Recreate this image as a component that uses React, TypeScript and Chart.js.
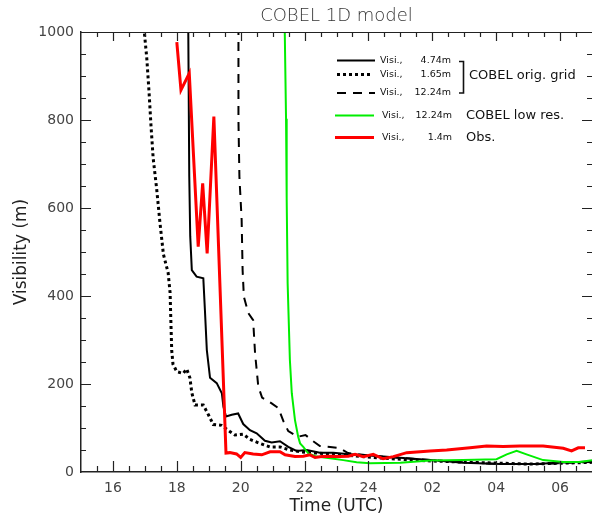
import React, { useEffect, useRef } from 'react';
import { Chart, registerables } from 'chart.js';

Chart.register(...registerables);

const FONT = '"DejaVu Sans", "Liberation Sans", Arial, sans-serif';

// Time in hours (values > 24 are the next day), visibility in metres
const solidHours = [18.35, 18.39, 18.42, 18.47, 18.62, 18.83, 18.88, 18.94, 19.04, 19.25, 19.41, 19.46, 19.54, 19.72, 19.92, 20.08, 20.29, 20.5, 20.76, 20.97, 21.23, 21.49, 21.75, 22.07, 22.48, 22.9, 23.32, 24.36, 25.4, 26.14, 26.97, 28.12, 29.27, 29.89, 31.0];
const solidVis = [1100, 671, 536, 459, 444, 440, 368, 277, 214, 202, 179, 148, 126, 130, 133, 109, 95, 88, 71, 67, 70, 57, 48, 50, 44, 44, 41, 36, 30, 26, 21, 18, 18, 21, 24];

const dotHours = [16.97, 17.06, 17.13, 17.19, 17.26, 17.37, 17.47, 17.58, 17.73, 17.79, 17.81, 17.84, 17.88, 18.0, 18.2, 18.31, 18.41, 18.47, 18.57, 18.83, 18.99, 19.14, 19.4, 19.66, 19.82, 20.08, 20.29, 20.6, 20.92, 21.23, 21.54, 21.86, 22.17, 23.2, 24.36, 25.61, 27.18, 29.06, 31.0];
const dotVis = [1010, 940, 864, 789, 713, 643, 568, 495, 452, 407, 353, 277, 245, 228, 224, 234, 214, 180, 152, 152, 130, 108, 106, 92, 84, 86, 74, 65, 57, 57, 50, 46, 44, 39, 32, 26, 22, 18, 22];

const dashHours = [19.93, 19.93, 19.96, 20.03, 20.06, 20.1, 20.24, 20.39, 20.45, 20.55, 20.67, 20.97, 21.18, 21.34, 21.49, 21.78, 22.03, 22.23, 22.48, 22.8, 23.11, 23.36, 24.05, 25.39, 26.96, 28.12, 29.37, 31.0];
const dashVis = [1050, 800, 671, 573, 459, 398, 361, 345, 270, 195, 169, 156, 145, 115, 93, 80, 84, 72, 59, 57, 54, 43, 37, 30, 22, 18, 18, 23];

const lowHours = [21.36, 21.42, 21.44, 21.47, 21.54, 21.6, 21.7, 21.8, 21.86, 21.96, 22.12, 22.38, 22.8, 23.21, 23.63, 24.05, 25.0, 25.93, 26.96, 28.01, 28.33, 28.64, 28.95, 29.47, 30.1, 30.62, 31.0];
const lowVis = [1100, 803, 622, 429, 255, 179, 118, 80, 65, 57, 42, 35, 31, 27, 22, 20, 21, 26, 27, 29, 40, 48, 40, 27, 23, 23, 27];

const obsHours = [18.0, 18.13, 18.39, 18.67, 18.81, 18.95, 19.16, 19.54, 19.66, 19.87, 20.0, 20.13, 20.39, 20.66, 20.92, 21.23, 21.39, 21.7, 21.96, 22.17, 22.33, 22.54, 22.8, 23.11, 23.37, 23.58, 23.84, 24.15, 24.46, 24.78, 25.2, 25.93, 26.45, 27.18, 27.7, 28.22, 28.74, 29.47, 30.1, 30.36, 30.57, 30.78];
const obsVis = [977, 868, 906, 512, 656, 497, 808, 43, 44, 41, 33, 44, 41, 39, 46, 46, 39, 35, 36, 39, 33, 35, 36, 35, 36, 40, 35, 40, 30, 35, 44, 48, 50, 55, 59, 58, 59, 59, 54, 48, 55, 55];

const seriesNames = ['Visi.,', 'Visi.,', 'Visi.,', 'Visi.,', 'Visi.,'];
const seriesHeights = ['4.74m', '1.65m', '12.24m', '12.24m', '1.4m'];
const groupLabels = ['COBEL orig. grid', 'COBEL low res.', 'Obs.'];
const chartTitle = 'COBEL 1D model';
const xTitle = 'Time (UTC)';
const yTitle = 'Visibility (m)';

const toPoints = (xs: number[], ys: number[]) => xs.map((x, i) => ({ x, y: ys[i] }));

const fmtHour = (v: number) => {
  if (Math.abs(v % 2) > 1e-6) return '';
  if (v <= 15 || v >= 31) return '';
  const h = v > 24 ? v - 24 : v;
  return h < 10 ? '0' + h : String(h);
};

const framePlugin = {
  id: 'frameTicks',
  afterDraw(chart: any) {
    const { ctx, chartArea } = chart;
    const { left, right, top, bottom } = chartArea;
    const xs = chart.scales.x;
    const ys = chart.scales.y;
    ctx.save();
    // title
    ctx.fillStyle = '#333';
    ctx.font = `200 18px ${FONT}`;
    ctx.textAlign = 'center';
    ctx.textBaseline = 'middle';
    ctx.fillText(chartTitle, (left + right) / 2, 16);

    // top frame line
    ctx.strokeStyle = '#222';
    ctx.lineWidth = 1;
    ctx.beginPath();
    ctx.moveTo(left, top + 0.5);
    ctx.lineTo(right, top + 0.5);
    ctx.stroke();

    // inward ticks
    ctx.lineWidth = 1.2;
    ctx.beginPath();
    for (let v = 15.5; v < 31; v += 0.5) {
      const px = Math.round(xs.getPixelForValue(v)) + 0.5;
      const major = Math.abs(v % 2) < 1e-6;
      const lb = major ? 11 : 6;
      const lt = major ? 9 : 5;
      ctx.moveTo(px, bottom);
      ctx.lineTo(px, bottom - lb);
      ctx.moveTo(px, top);
      ctx.lineTo(px, top + lt);
    }
    for (let v = 50; v < 1000; v += 50) {
      const py = Math.round(ys.getPixelForValue(v)) + 0.5;
      const major = v % 200 === 0;
      const len = major ? 10 : 5;
      ctx.moveTo(left, py);
      ctx.lineTo(left + len, py);
      ctx.moveTo(right, py);
      ctx.lineTo(right - len, py);
    }
    ctx.stroke();

    // legend
    const rows = [
      { ds: 0, y: 60.5, x0: 337, x1: 375, tx: 380, vx: 451 },
      { ds: 1, y: 74.5, x0: 337, x1: 373, tx: 380, vx: 451 },
      { ds: 2, y: 93, x0: 337, x1: 375, tx: 380, vx: 451 },
      { ds: 3, y: 115.5, x0: 335, x1: 374, tx: 382, vx: 452 },
      { ds: 4, y: 137.5, x0: 335, x1: 374, tx: 382, vx: 452 },
    ];
    rows.forEach((r, i) => {
      const d = chart.data.datasets[r.ds];
      ctx.save();
      ctx.strokeStyle = d.borderColor;
      ctx.lineWidth = d.borderWidth;
      ctx.lineCap = 'butt';
      ctx.setLineDash(d.borderDash || []);
      ctx.beginPath();
      ctx.moveTo(r.x0, r.y);
      ctx.lineTo(r.x1, r.y);
      ctx.stroke();
      ctx.restore();
      ctx.fillStyle = '#111';
      ctx.font = `9.5px ${FONT}`;
      ctx.textBaseline = 'middle';
      ctx.textAlign = 'left';
      ctx.fillText(seriesNames[i], r.tx, r.y);
      ctx.textAlign = 'right';
      ctx.fillText(seriesHeights[i], r.vx, r.y);
    });
    // bracket
    ctx.strokeStyle = '#111';
    ctx.lineWidth = 1.6;
    ctx.setLineDash([]);
    ctx.beginPath();
    ctx.moveTo(459, 61.5);
    ctx.lineTo(463.5, 61.5);
    ctx.lineTo(463.5, 93);
    ctx.lineTo(459, 93);
    ctx.stroke();
    ctx.fillStyle = '#111';
    ctx.font = `13px ${FONT}`;
    ctx.textAlign = 'left';
    ctx.textBaseline = 'middle';
    ctx.fillText(groupLabels[0], 469, 76);
    ctx.fillText(groupLabels[1], 466, 116);
    ctx.fillText(groupLabels[2], 466, 138);
    ctx.restore();
  },
};

export default function App() {
  const ref = useRef<HTMLCanvasElement | null>(null);
  useEffect(() => {
    if (!ref.current) return;
    const chart = new Chart(ref.current, {
      type: 'line',
      data: {
        datasets: [
          { label: seriesNames[0] + ' ' + seriesHeights[0], data: toPoints(solidHours, solidVis), borderColor: '#000000', borderWidth: 2, order: 2 },
          { label: seriesNames[1] + ' ' + seriesHeights[1], data: toPoints(dotHours, dotVis), borderColor: '#000000', borderWidth: 3, borderDash: [3, 3], borderCapStyle: 'butt', order: 3 },
          { label: seriesNames[2] + ' ' + seriesHeights[2], data: toPoints(dashHours, dashVis), borderColor: '#000000', borderWidth: 2, borderDash: [9, 7], order: 4 },
          { label: seriesNames[3] + ' ' + seriesHeights[3], data: toPoints(lowHours, lowVis), borderColor: '#00ee00', borderWidth: 2, order: 1 },
          { label: seriesNames[4] + ' ' + seriesHeights[4], data: toPoints(obsHours, obsVis), borderColor: '#ff0000', borderWidth: 3, order: 0 },
        ] as any,
      },
      options: {
        animation: false,
        responsive: false,
        maintainAspectRatio: false,
        layout: { padding: { top: 32, left: 0, right: 0, bottom: 0 } },
        elements: { point: { radius: 0 }, line: { tension: 0, fill: false } },
        plugins: { legend: { display: false }, tooltip: { enabled: false }, title: { display: false } },
        scales: {
          x: {
            type: 'linear',
            min: 15,
            max: 31,
            afterFit: (s: any) => { s.height = 48; s.paddingLeft = 0; s.paddingRight = 0; },
            grid: { display: false, drawTicks: false },
            border: { display: true, color: '#222', width: 1.5 },
            ticks: {
              stepSize: 1,
              autoSkip: false,
              maxRotation: 0,
              padding: 8,
              color: '#444',
              font: { family: FONT, size: 14 },
              callback: (v: any) => fmtHour(Number(v)),
            },
            title: { display: true, text: xTitle, color: '#222', font: { family: FONT, size: 17 }, padding: { top: 0, bottom: 3 } },
          },
          y: {
            type: 'linear',
            min: 0,
            max: 1000,
            afterFit: (s: any) => { s.width = 81; s.paddingTop = 0; s.paddingBottom = 0; },
            grid: { display: false, drawTicks: false },
            border: { display: true, color: '#222', width: 1.5 },
            ticks: {
              stepSize: 200,
              padding: 7,
              color: '#444',
              font: { family: FONT, size: 14 },
              callback: (v: any) => String(v),
            },
            title: { display: true, text: yTitle, color: '#222', font: { family: FONT, size: 17 }, padding: { top: 11, bottom: 0 } },
          },
        },
      } as any,
      plugins: [framePlugin],
    });
    return () => chart.destroy();
  }, []);
  return (
    <div style={{ position: 'fixed', left: 0, top: 0, width: 592, height: 520, background: '#fff' }}>
      <canvas ref={ref} width={592} height={520} style={{ display: 'block', width: 592, height: 520 }} />
    </div>
  );
}
